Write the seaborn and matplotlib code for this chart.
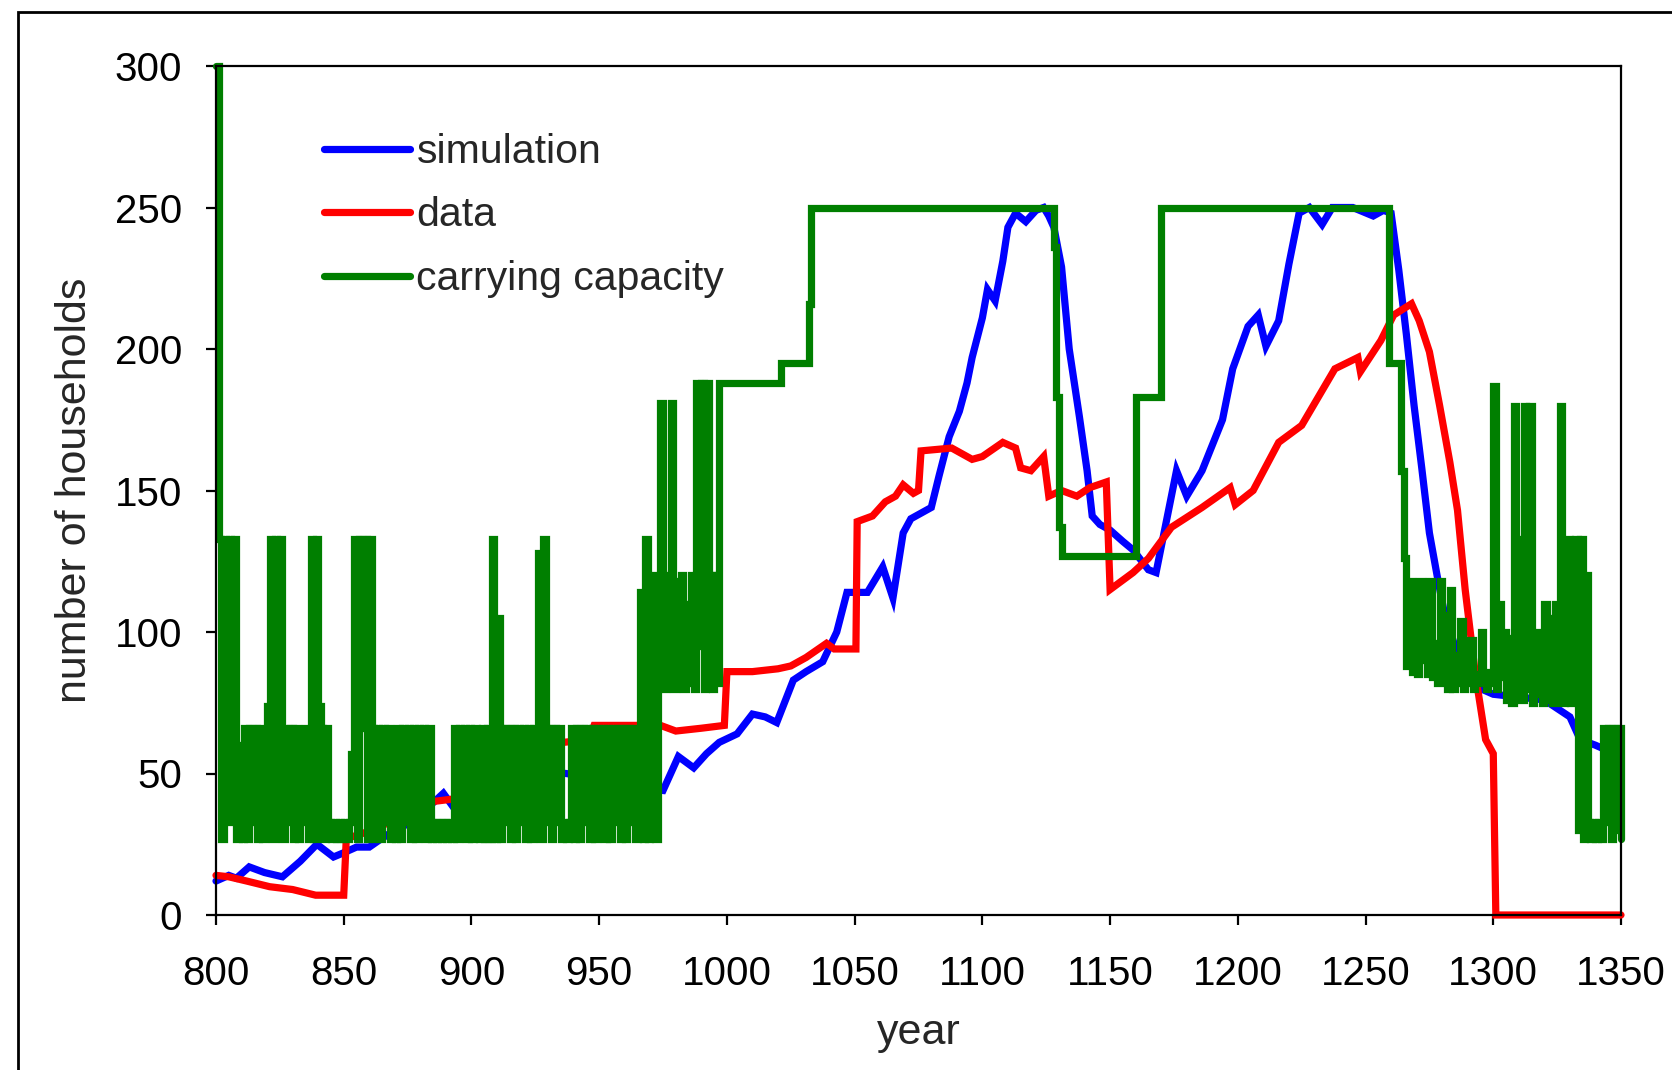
import matplotlib
matplotlib.use("Agg")
import matplotlib.pyplot as plt
import numpy as np
import pandas as pd
import seaborn as sns
from matplotlib.patches import Rectangle

# ---------------- data ----------------
sim_years = [800, 805, 808, 813, 819, 826, 833, 839.5, 846, 850, 855, 860, 864, 870, 877,
             883, 889, 893, 897, 904, 915, 925, 937, 945, 952, 958, 965, 975, 981, 987,
             992, 997, 1004, 1010, 1015, 1019.5, 1026, 1031, 1037.5, 1043, 1047, 1055,
             1061, 1065, 1069, 1072, 1080, 1083, 1087, 1091, 1094, 1096, 1100, 1102,
             1105, 1108, 1110, 1113, 1117, 1121, 1124, 1126, 1128, 1131, 1134, 1138,
             1141, 1143, 1146, 1150, 1155, 1159, 1165, 1168, 1172, 1176, 1180, 1186,
             1194, 1198, 1204, 1208, 1211, 1216, 1220, 1224, 1228, 1233, 1237, 1245,
             1253, 1257, 1260, 1263, 1266, 1269, 1272, 1275, 1278, 1281, 1285, 1290,
             1295, 1300, 1310, 1320, 1330, 1334, 1340, 1345, 1350]
sim_values = [12, 14, 13, 17, 15, 13.5, 19, 25, 20.5, 22, 24, 24, 26.5, 30, 33,
              38, 43, 38, 41, 50, 50, 51, 50, 49, 50, 47, 45, 44, 56, 52,
              57, 61, 64, 71, 70, 68, 83, 86, 89.5, 100, 114, 114,
              123, 112, 135, 140, 144, 155, 169, 178, 188, 197, 211, 221,
              217, 231, 243, 248, 245, 249, 250, 247, 243, 229, 200, 176,
              157, 141, 138, 136, 132, 129, 122, 121, 139, 157, 148, 157,
              175, 193, 208, 212, 201, 210, 230, 248, 250, 244, 250, 250,
              247, 249, 248, 228, 205, 180, 158, 135, 120, 106, 95, 84,
              80, 78, 77, 76, 70, 62, 60, 58, 52]

data_years = [800, 805, 812, 821, 830, 839, 850, 851, 858, 866, 875, 884, 893, 896,
              897, 905, 920, 930, 936, 946, 948, 960, 974, 980, 990, 999, 1000, 1010,
              1020, 1025, 1031, 1039, 1042, 1050.5, 1051, 1057, 1062, 1066, 1069, 1073,
              1075, 1076, 1088, 1096, 1100, 1108, 1113, 1115, 1119, 1124, 1126, 1131,
              1137, 1142, 1148.5, 1150, 1159, 1165, 1174, 1186, 1197, 1199, 1206, 1216,
              1225, 1238, 1247, 1248, 1256, 1261, 1268, 1271, 1275, 1279, 1283, 1286,
              1289, 1293, 1297, 1300, 1301, 1350]
data_values = [14, 13.5, 12, 10, 9, 7, 7, 27, 29, 32, 35, 40, 41, 41,
               57, 58, 58, 59, 61, 62, 67, 67, 67, 65, 66, 67, 86, 86,
               87, 88, 91, 96, 94, 94, 139, 141, 146, 148, 152, 149,
               150, 164, 165, 161, 162, 167, 165, 158, 157, 162, 148, 150,
               148, 151, 153, 115, 121, 126, 137, 144, 151, 145, 150, 167,
               173, 193, 197, 192, 203, 212, 216, 210, 199, 180, 160, 143,
               115, 85, 62, 57, 0, 0]

# carrying capacity: yearly values 800-997, step changes 1021-1264, yearly values 1265-1350
cap_years = (list(range(800, 998))
             + [1021, 1032, 1033, 1128, 1129, 1130, 1131, 1160, 1170, 1259, 1264]
             + list(range(1265, 1351)))
cap_values = [
    300, 133, 27, 133, 33, 133, 66, 133, 27, 60,
    27, 66, 27, 66, 33, 66, 27, 66, 27, 33,
    74, 133, 27, 133, 66, 133, 27, 66, 33, 66,
    27, 66, 27, 60, 33, 66, 27, 133, 27, 133,
    74, 66, 27, 66, 33, 27, 33, 27, 33, 27,
    33, 27, 33, 57, 133, 27, 133, 66, 133, 27,
    133, 66, 27, 66, 27, 66, 33, 66, 27, 60,
    27, 66, 27, 66, 33, 66, 27, 66, 27, 66,
    33, 66, 27, 66, 27, 33, 27, 33, 27, 33,
    27, 33, 27, 66, 27, 66, 33, 66, 27, 66,
    27, 66, 33, 27, 66, 27, 66, 27, 133, 27,
    105, 27, 66, 33, 66, 27, 66, 27, 66, 33,
    66, 27, 66, 27, 66, 33, 128, 27, 133, 33,
    66, 27, 66, 33, 66, 27, 33, 27, 33, 66,
    27, 66, 27, 66, 33, 66, 27, 66, 27, 66,
    33, 66, 27, 66, 27, 66, 33, 66, 27, 66,
    27, 66, 33, 66, 27, 33, 114, 27, 133, 27,
    120, 66, 27, 100,
    181, 80, 120, 85, 181, 80, 118, 88, 120, 80,
    110, 82, 120, 80, 188, 95, 188, 80, 188, 120,
    80, 120, 82, 188,
    195, 216, 250, 236, 183, 137, 127, 183, 250, 195, 157,
    126, 88, 118, 86, 112, 85, 118, 90, 104, 85,
    118, 84, 96, 82, 118, 83, 106, 80, 115, 80,
    92, 82, 104, 80, 88, 82, 97, 80, 85, 82,
    100, 86, 80, 84, 82, 187, 80, 110, 84, 100,
    76, 98, 75, 180, 78, 133, 76, 180, 80, 180,
    75, 100, 78, 92, 75, 110, 76, 105, 75, 110,
    80, 180, 75, 110, 133, 75, 110, 133, 30, 133,
    27, 120, 33, 27, 33, 27, 33, 27, 66, 33,
    66, 27, 66, 30, 66, 27,
]

series_labels = ["simulation", "data", "carrying capacity"]
x_ticks = list(range(800, 1351, 50))
y_ticks = list(range(0, 301, 50))

# ---------------- drawing ----------------
sns.set_style("ticks")
plt.rcParams["font.family"] = ["Liberation Sans", "DejaVu Sans"]

W, H = 1672, 1070
fig = plt.figure(figsize=(W / 100, H / 100), dpi=100)
ax = fig.add_axes([216 / W, 1 - 915 / H, (1621 - 216) / W, (915 - 66) / H])

sim = pd.DataFrame({"year": sim_years, "households": sim_values})
dat = pd.DataFrame({"year": data_years, "households": data_values})
cap = pd.DataFrame({"year": cap_years, "households": cap_values})

lw = 5.2
sns.lineplot(data=sim, x="year", y="households", ax=ax, color="#0000FF", lw=lw,
             estimator=None, sort=False, label=series_labels[0], clip_on=False,
             solid_joinstyle="miter")
sns.lineplot(data=dat, x="year", y="households", ax=ax, color="#FF0000", lw=lw,
             estimator=None, sort=False, label=series_labels[1], clip_on=False,
             solid_joinstyle="miter")
sns.lineplot(data=cap, x="year", y="households", ax=ax, color="#007F00", lw=lw,
             estimator=None, sort=False, label=series_labels[2], clip_on=False,
             drawstyle="steps-post", solid_joinstyle="miter")

ax.set_xlim(800, 1350)
ax.set_ylim(0, 300)
ax.set_xticks(x_ticks)
ax.set_yticks(y_ticks)
ax.set_xticklabels([str(t) for t in x_ticks])
ax.set_yticklabels([str(t) for t in y_ticks])
ax.tick_params(axis="both", direction="out", length=7.5, width=1.6, colors="black",
               labelsize=29)
ax.tick_params(axis="x", pad=21)
ax.tick_params(axis="y", pad=17)
for s in ax.spines.values():
    s.set_visible(True)
    s.set_linewidth(1.6)
    s.set_color("black")

ax.set_xlabel("year", fontsize=31, labelpad=15)
ax.set_ylabel("number of households", fontsize=31, labelpad=14)

leg = ax.legend(loc="upper left", bbox_to_anchor=(0.077, 0.921), frameon=False,
                fontsize=29.5, handlelength=2.1, handletextpad=0.15,
                labelspacing=0.62, borderaxespad=0, borderpad=0)
for h in leg.get_lines():
    h.set_linewidth(lw)

fig.patches.append(Rectangle((18 / W, -0.1), 1.2, (1 - 12 / H) + 0.1,
                             transform=fig.transFigure, fill=False,
                             lw=2.0, ec="black"))

fig.savefig("out.png", dpi=100, facecolor="white")
